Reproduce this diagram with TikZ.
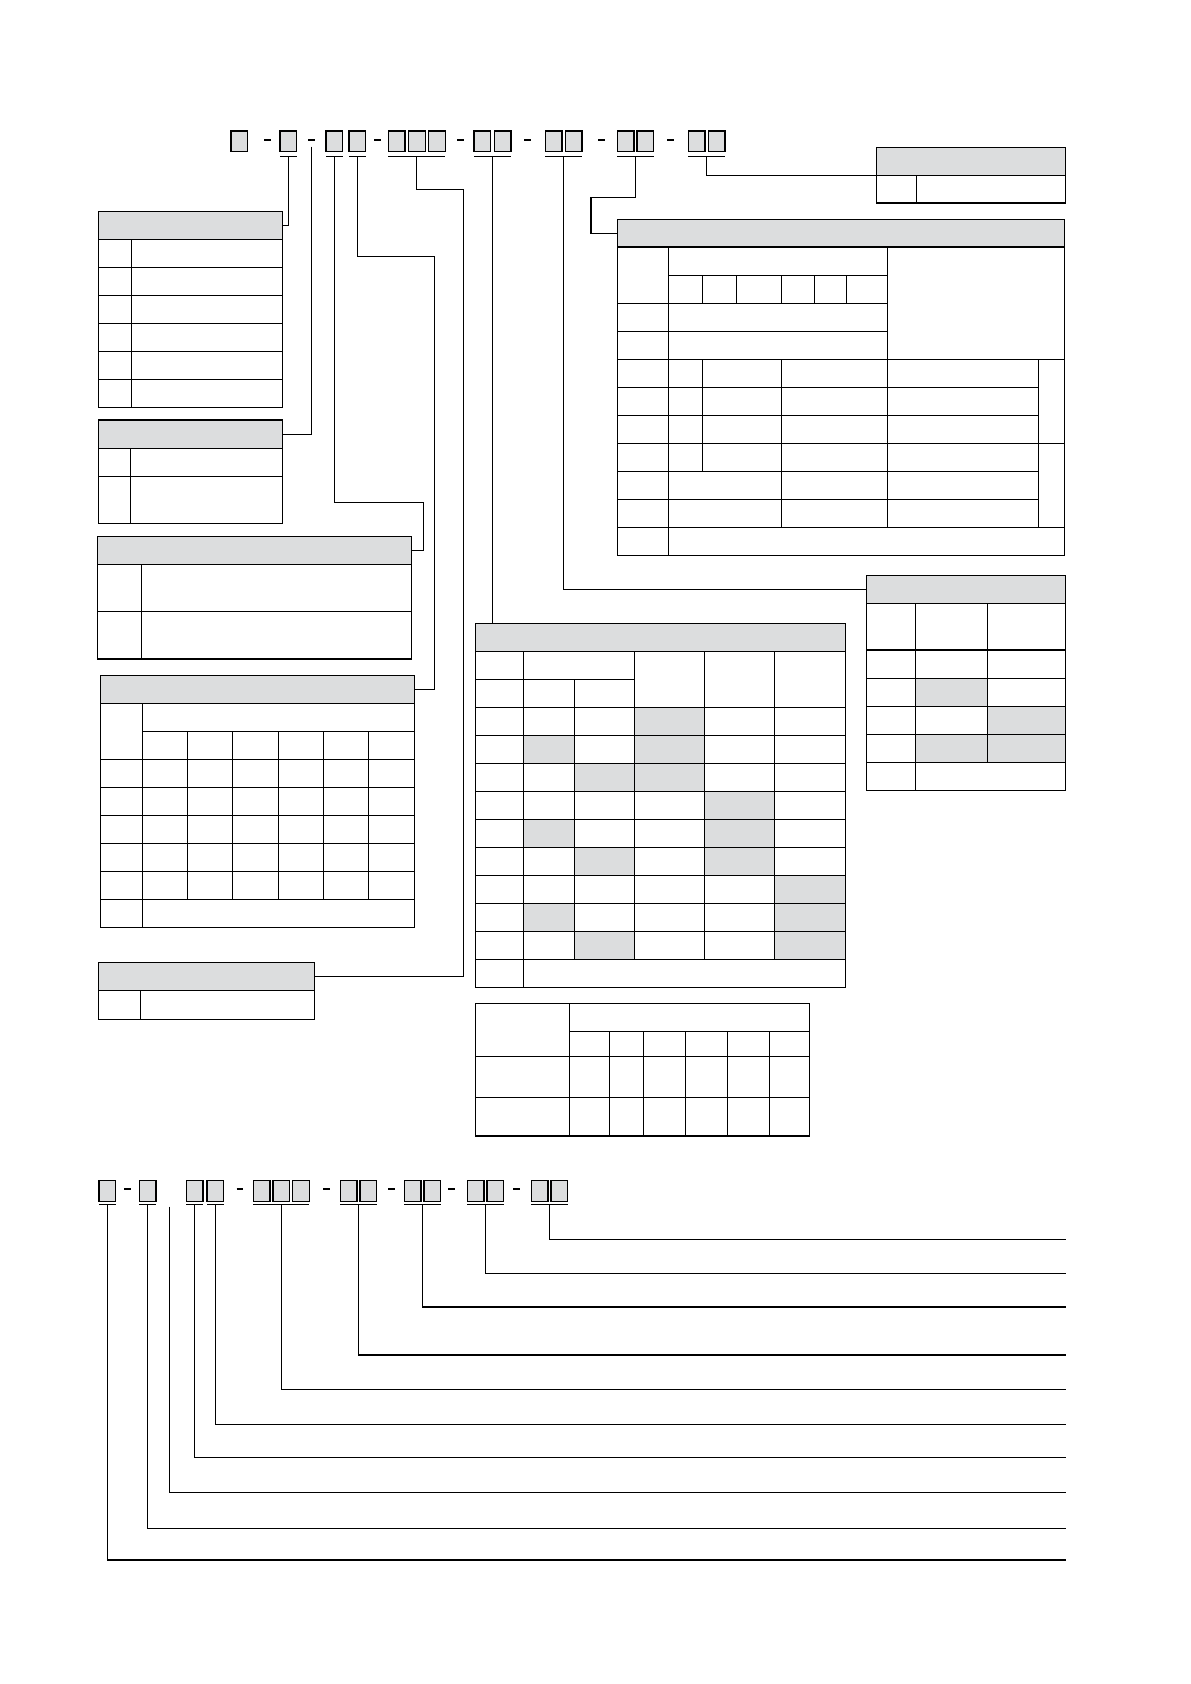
\documentclass[tikz,border=0pt]{standalone}
\definecolor{hdrgray}{RGB}{220,221,222}
\tikzset{
  codebox/.style={draw=black,fill=hdrgray,minimum width=16.7pt,minimum height=20.5pt,inner sep=0pt,outer sep=0pt,anchor=north west},
  hdrbox/.style={draw=black,fill=hdrgray,inner sep=0pt,outer sep=0pt,anchor=north west},
  dashmark/.style={line width=2.2pt},
  shadecell/.style={fill=hdrgray}
}
\begin{document}
\begin{tikzpicture}[x=1pt,y=-1pt,line width=1.2pt]
\useasboundingbox (0,0) rectangle (1191,1684);

% code line at the top
\foreach \i/\x in {1/231,2/280,3/326,4/349,5/388.3,6/408.5,7/428.7,8/474,9/494.3,10/545.3,11/565.3,12/617.3,13/637,14/688.3,15/708.3}
  \node[codebox] (a\i) at (\x,131) {};
\foreach \x in {264,308,374,457,524,598,667}
  \draw[dashmark] (\x,140) -- ++(7,0);
\foreach \p/\q in {2/2,3/3,4/4,5/7,8/9,10/11,12/13,14/15}
  \draw ([yshift=-4.6pt]a\p.south west) -- node[midway,coordinate] (u\p) {} ([yshift=-4.6pt]a\q.south east);
\coordinate (d2) at (311.3,146.7);

% left tables
\node[hdrbox,minimum width=184pt,minimum height=27.6pt] (hA) at (98.3,211.7) {};
\draw (98.3,239.3) rectangle (282.3,407.3);
\draw (131.3,239.3) -- (131.3,407.3);
\foreach \y in {267.3,295.3,323.3,351.3,379.3}
  \draw (98.3,\y) -- (282.3,\y);

\node[hdrbox,minimum width=184pt,minimum height=28.3pt] (hB) at (98.3,420) {};
\draw (98.3,448.3) rectangle (282.3,523.3);
\draw (130.3,448.3) -- (130.3,523.3);
\draw (98.3,476.3) -- (282.3,476.3);

\node[hdrbox,minimum width=314.4pt,minimum height=28pt] (hC) at (97.3,536.3) {};
\draw (97.3,564.3) rectangle (411.7,659);
\draw (141.3,564.3) -- (141.3,659);
\draw (97.3,611.3) -- (411.7,611.3);

\node[hdrbox,minimum width=314pt,minimum height=28pt] (hD) at (100.3,675.3) {};
\draw (100.3,703.3) rectangle (414.3,927.3);
\draw (142.3,703.3) -- (142.3,927.3);
\draw (142.3,731.3) -- (414.3,731.3);
\foreach \y in {759.3,787.3,815.3,843.3,871.3,899.3}
  \draw (100.3,\y) -- (414.3,\y);
\foreach \x in {187.3,232.3,278.3,323.3,368.3}
  \draw (\x,731.3) -- (\x,899.3);

\node[hdrbox,minimum width=216.4pt,minimum height=28pt] (hE) at (98.3,962.3) {};
\draw (98.3,990.3) rectangle (314.7,1019.3);
\draw (140.3,990.3) -- (140.3,1019.3);

% right tables
\node[hdrbox,minimum width=189pt,minimum height=27.6pt] (hK) at (876.7,147.7) {};
\draw (876.7,175.3) rectangle (1065.7,203);
\draw (916.3,175.3) -- (916.3,203);

\node[hdrbox,minimum width=447pt,minimum height=27.7pt] (hG) at (617.3,219.3) {};
\draw (617.3,247) rectangle (1064.3,555.3);
\draw (668.3,247) -- (668.3,555.3);
\draw (887.3,247) -- (887.3,527.3);
\draw (668.3,275.3) -- (887.3,275.3);
\foreach \x in {702.3,736.3,781.3,814.3,846.3}
  \draw (\x,275.3) -- (\x,303.3);
\foreach \y in {303.3,331.3}
  \draw (617.3,\y) -- (887.3,\y);
\foreach \y in {359.3,443.3,527.3}
  \draw (617.3,\y) -- (1064.3,\y);
\foreach \y in {387.3,415.3,471.3,499.3}
  \draw (617.3,\y) -- (1038.3,\y);
\draw (702.3,359.3) -- (702.3,471.3);
\draw (781.3,359.3) -- (781.3,527.3);
\draw (1038.3,359.3) -- (1038.3,527.3);

\node[hdrbox,minimum width=199pt,minimum height=28pt] (hR) at (866.3,575.3) {};
\fill[shadecell] (915.3,678.3) rectangle (987.7,706.3);
\fill[shadecell] (987.7,706.3) rectangle (1065.3,734.3);
\fill[shadecell] (915.3,734.3) rectangle (1065.3,762.3);
\draw (866.3,603.3) rectangle (1065.3,790.3);
\draw (915.3,603.3) -- (915.3,790.3);
\draw (987.7,603.3) -- (987.7,762.3);
\foreach \y in {650,678.3,706.3,734.3,762.3}
  \draw (866.3,\y) -- (1065.3,\y);

% middle tables
\node[hdrbox,minimum width=369.6pt,minimum height=28pt] (hM) at (475.7,623.3) {};
\foreach \r/\c in {1/3,2/1,2/3,3/2,3/3,4/4,5/1,5/4,6/2,6/4,7/5,8/1,8/5,9/2,9/5}
  \pgfmathsetmacro{\ya}{707.3+28*(\r-1)}
  \pgfmathsetmacro{\xa}{{0,523.3,574.3,634.3,704.3,774.3}[\c]}
  \pgfmathsetmacro{\xb}{{0,574.3,634.3,704.3,774.3,845.3}[\c]}
  \fill[shadecell] (\xa,\ya) rectangle (\xb,\ya+28);
\draw (475.7,651.3) rectangle (845.3,987.3);
\draw (523.3,651.3) -- (523.3,987.3);
\draw (475.7,679.3) -- (634.3,679.3);
\draw (574.3,679.3) -- (574.3,959.3);
\foreach \x in {634.3,704.3,774.3}
  \draw (\x,651.3) -- (\x,959.3);
\foreach \k in {0,...,9}
  \draw (475.7,707.3+28*\k) -- (845.3,707.3+28*\k);

\draw (475.3,1003.3) rectangle (809.3,1136);
\draw (569.3,1003.3) -- (569.3,1136);
\draw (569.3,1031.3) -- (809.3,1031.3);
\foreach \x in {609.3,643.3,685.3,727.3,769.3}
  \draw (\x,1031.3) -- (\x,1136);
\foreach \y in {1056.3,1097.3}
  \draw (475.3,\y) -- (809.3,\y);

% connectors at the top
\draw (u2) |- (hA.east);
\draw (d2) |- (hB.east);
\draw (u3) |- (423.3,502.3) |- (hC.east);
\draw (u4) |- (434.3,256.3) |- (hD.east);
\draw (u5) |- (463.3,189.3) |- (hE.east);
\draw (u8) -- (u8 |- hM.north);
\draw (u10) |- (hR.west);
\draw (u12) |- (591,197.7) |- (hG.west);
\draw (u14) |- (hK.south west);

% code line at the bottom
\foreach \i/\x in {1/99,2/139.3,3/186.3,4/207,5/253.3,6/273,7/292.7,8/340.3,9/360,10/404.3,11/424,12/467.3,13/487,14/531.3,15/551}
  \node[codebox] (b\i) at (\x,1180.7) {};
\foreach \x in {124.3,236.7,323.3,388.3,448.3,513.3}
  \draw[dashmark] (\x,1189.3) -- ++(6.4,0);
\foreach \p/\q in {1/1,2/2,3/3,4/4,5/7,8/9,10/11,12/13,14/15}
  \draw ([yshift=-3pt]b\p.south west) -- node[midway,coordinate] (v\p) {} ([yshift=-3pt]b\q.south east);
\coordinate (v0) at (169.3,1206.7);
\foreach \s/\y [count=\n] in {14/1239.3,12/1273.3,10/1307,8/1355,5/1389.3,4/1424.3,3/1457.3,0/1492.3,2/1528.3,1/1560}{
  \coordinate (e\n) at (1066,\y);
  \draw (v\s) |- (e\n);
}
\end{tikzpicture}
\end{document}
